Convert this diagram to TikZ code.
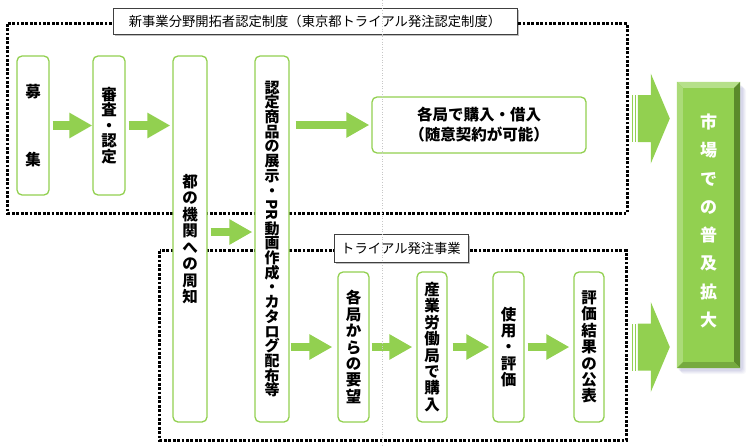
\documentclass[tikz,border=0pt]{standalone}
\usepackage{fontspec}
\usepackage{graphicx}
\newfontfamily\jp{Noto Sans CJK JP}
\usetikzlibrary{arrows.meta,calc,shadows}
\definecolor{gr}{HTML}{92D050}
\definecolor{grlight}{HTML}{B6E08A}
\definecolor{grleft}{HTML}{ABDB78}
\definecolor{grdark}{HTML}{5B8A2B}
\definecolor{grbot}{HTML}{76AA3F}
\begin{document}
\begin{tikzpicture}[x=1pt,y=-1pt,
  gbox/.style={draw=gr, line width=1.3pt, rounded corners=5pt, fill=white, inner sep=0pt,
    align=center, font=\jp\bfseries\fontsize{15.5}{16.4}\selectfont},
  garrow/.style={draw=gr, line width=8.7pt, -{Triangle[width=24pt,length=23pt]}},
  frameline/.style={draw=black, line width=3pt, dash pattern=on 2.8pt off 1.6pt},
  lbl/.style={draw=black!75, line width=0.8pt, fill=white, inner sep=0pt,
    font=\jp\fontsize{13.3}{15}\selectfont,
    drop shadow={shadow xshift=2pt, shadow yshift=-2pt, opacity=0.25, fill=black}},
  bigarrow/.style={fill=gr, draw=none}
]
\useasboundingbox (0,0) rectangle (750,447);

% dotted frames
\node[inner sep=0pt, minimum width=619pt, minimum height=189pt] (f1) at (317.5,118.5) {};
\node[inner sep=0pt, minimum width=466pt, minimum height=189pt] (f2) at (393,345.5) {};
\draw[frameline] (f1.north west) rectangle (f1.south east);
\draw[frameline] (f2.north west) rectangle (f2.south east);

% top row boxes
\node[gbox, minimum width=32pt, minimum height=139pt] (boshu) at (33,125.5) {募\\[51pt]集};
\node[gbox, minimum width=32pt, minimum height=139pt,
  font=\jp\bfseries\fontsize{15.5}{15.5}\selectfont] (shinsa) at (109,125.5) {審\\査\\・\\認\\定};
\node[gbox, minimum width=34pt, minimum height=366pt,
  font=\jp\bfseries\fontsize{15.5}{16.5}\selectfont] (shuchi) at (190,239) {都\\の\\機\\関\\へ\\の\\周\\知};
\node[gbox, minimum width=34pt, minimum height=366pt,
  font=\jp\bfseries\fontsize{15}{14.7}\selectfont] (tenji) at (272,239)
  {認\\定\\商\\品\\の\\展\\示\\・\\\raisebox{0.75em}{\rotatebox{-90}{PR}}\\動\\画\\作\\成\\・\\カ\\タ\\ロ\\グ\\配\\布\\等};
\node[gbox, minimum width=214pt, minimum height=56pt,
  font=\jp\bfseries\fontsize{15.5}{20}\selectfont] (kakkyoku) at (479,125) {各局で購入・借入\\（随意契約が可能）};

% bottom row boxes
\node[gbox, minimum width=31pt, minimum height=150pt] (youbou) at (353.5,347) {各\\局\\か\\ら\\の\\要\\望};
\node[gbox, minimum width=30pt, minimum height=150pt] (sangyo) at (432,347) {産\\業\\労\\働\\局\\で\\購\\入};
\node[gbox, minimum width=31pt, minimum height=150pt] (shiyou) at (508.5,347) {使\\用\\・\\評\\価};
\node[gbox, minimum width=30pt, minimum height=150pt] (kouhyou) at (589,347) {評\\価\\結\\果\\の\\公\\表};

% labels
\node[lbl, minimum width=404pt, minimum height=26pt] (lab1) at (315,21) {新事業分野開拓者認定制度（東京都トライアル発注認定制度）};
\node[lbl, minimum width=134pt, minimum height=28pt] (lab2) at (401,248) {トライアル発注事業};

% small arrows
\draw[garrow] ([xshift=3pt]boshu.east) -- (shinsa.west |- boshu.east);
\draw[garrow] ([xshift=3pt]shinsa.east) -- ([xshift=-2pt]shuchi.west |- shinsa.east);
\draw[garrow] ([xshift=6pt]tenji.east |- kakkyoku.west) -- ([xshift=-2pt]kakkyoku.west);
\draw[garrow] ($(shuchi.east)+(3,-7)$) -- ($(tenji.west)+(-2,-7)$);
\draw[garrow] ([xshift=1pt]tenji.east |- youbou.west) -- ([xshift=-5pt]youbou.west);
\draw[garrow] ([xshift=2pt]youbou.east) -- ([xshift=-4pt]sangyo.west);
\draw[garrow] ([xshift=5pt]sangyo.east) -- ([xshift=-3pt]shiyou.west);
\draw[garrow] ([xshift=3pt]shiyou.east) -- ([xshift=-4pt]kouhyou.west);

% market box with bevel and shadow
\begin{scope}
  \foreach \s/\o in {6/0.05,5/0.06,4/0.07,3/0.08} {
    \fill[blue!30!gray, opacity=\o, rounded corners=3pt] (677+\s-2,82+\s) rectangle (740+\s,368+\s);
  }
\end{scope}
\node[fill=gr, inner sep=0pt, minimum width=63pt, minimum height=286pt] (market) at (708.5,225) {};
\fill[grlight] (market.north west) -- (market.north east) -- ($(market.north east)+(-6,6)$) -- ($(market.north west)+(6,6)$) -- cycle;
\fill[grleft] (market.north west) -- ($(market.north west)+(6,6)$) -- ($(market.south west)+(6,-6)$) -- (market.south west) -- cycle;
\fill[grdark] (market.north east) -- (market.south east) -- ($(market.south east)+(-6,-6)$) -- ($(market.north east)+(-6,6)$) -- cycle;
\fill[grbot] (market.south west) -- (market.south east) -- ($(market.south east)+(-6,-6)$) -- ($(market.south west)+(6,-6)$) -- cycle;
\node[text=white, align=center, inner sep=0pt, font=\jp\bfseries\fontsize{17}{28.3}\selectfont] (mtext) at ($(market.center)+(0,-4)$) {市\\場\\で\\の\\普\\及\\拡\\大};

% big striped arrows
\coordinate (t1) at ($(market.west |- f1.east)+(-7,0)$);
\coordinate (t2) at ($(market.west |- f2.east)+(-7,1.5)$);
\foreach \t in {t1,t2} {
  \fill[bigarrow] ($(\t)+(-19,-45)$) -- (\t) -- ($(\t)+(-19,45)$) -- ($(\t)+(-19,23.5)$) -- ($(\t)+(-32,23.5)$) -- ($(\t)+(-32,-23.5)$) -- ($(\t)+(-19,-23.5)$) -- cycle;
  \fill[bigarrow] ($(\t)+(-38,-23.5)$) rectangle ($(\t)+(-36.5,23.5)$);
  \fill[bigarrow] ($(\t)+(-35,-23.5)$) rectangle ($(\t)+(-33.5,23.5)$);
}

% faint vertical guide line
\coordinate (gtop) at (382,0);
\coordinate (gbot) at (382,447);
\draw[black!22, line width=0.8pt, dash pattern=on 1pt off 1.6pt] (gtop) -- (gbot);
\end{tikzpicture}
\end{document}
